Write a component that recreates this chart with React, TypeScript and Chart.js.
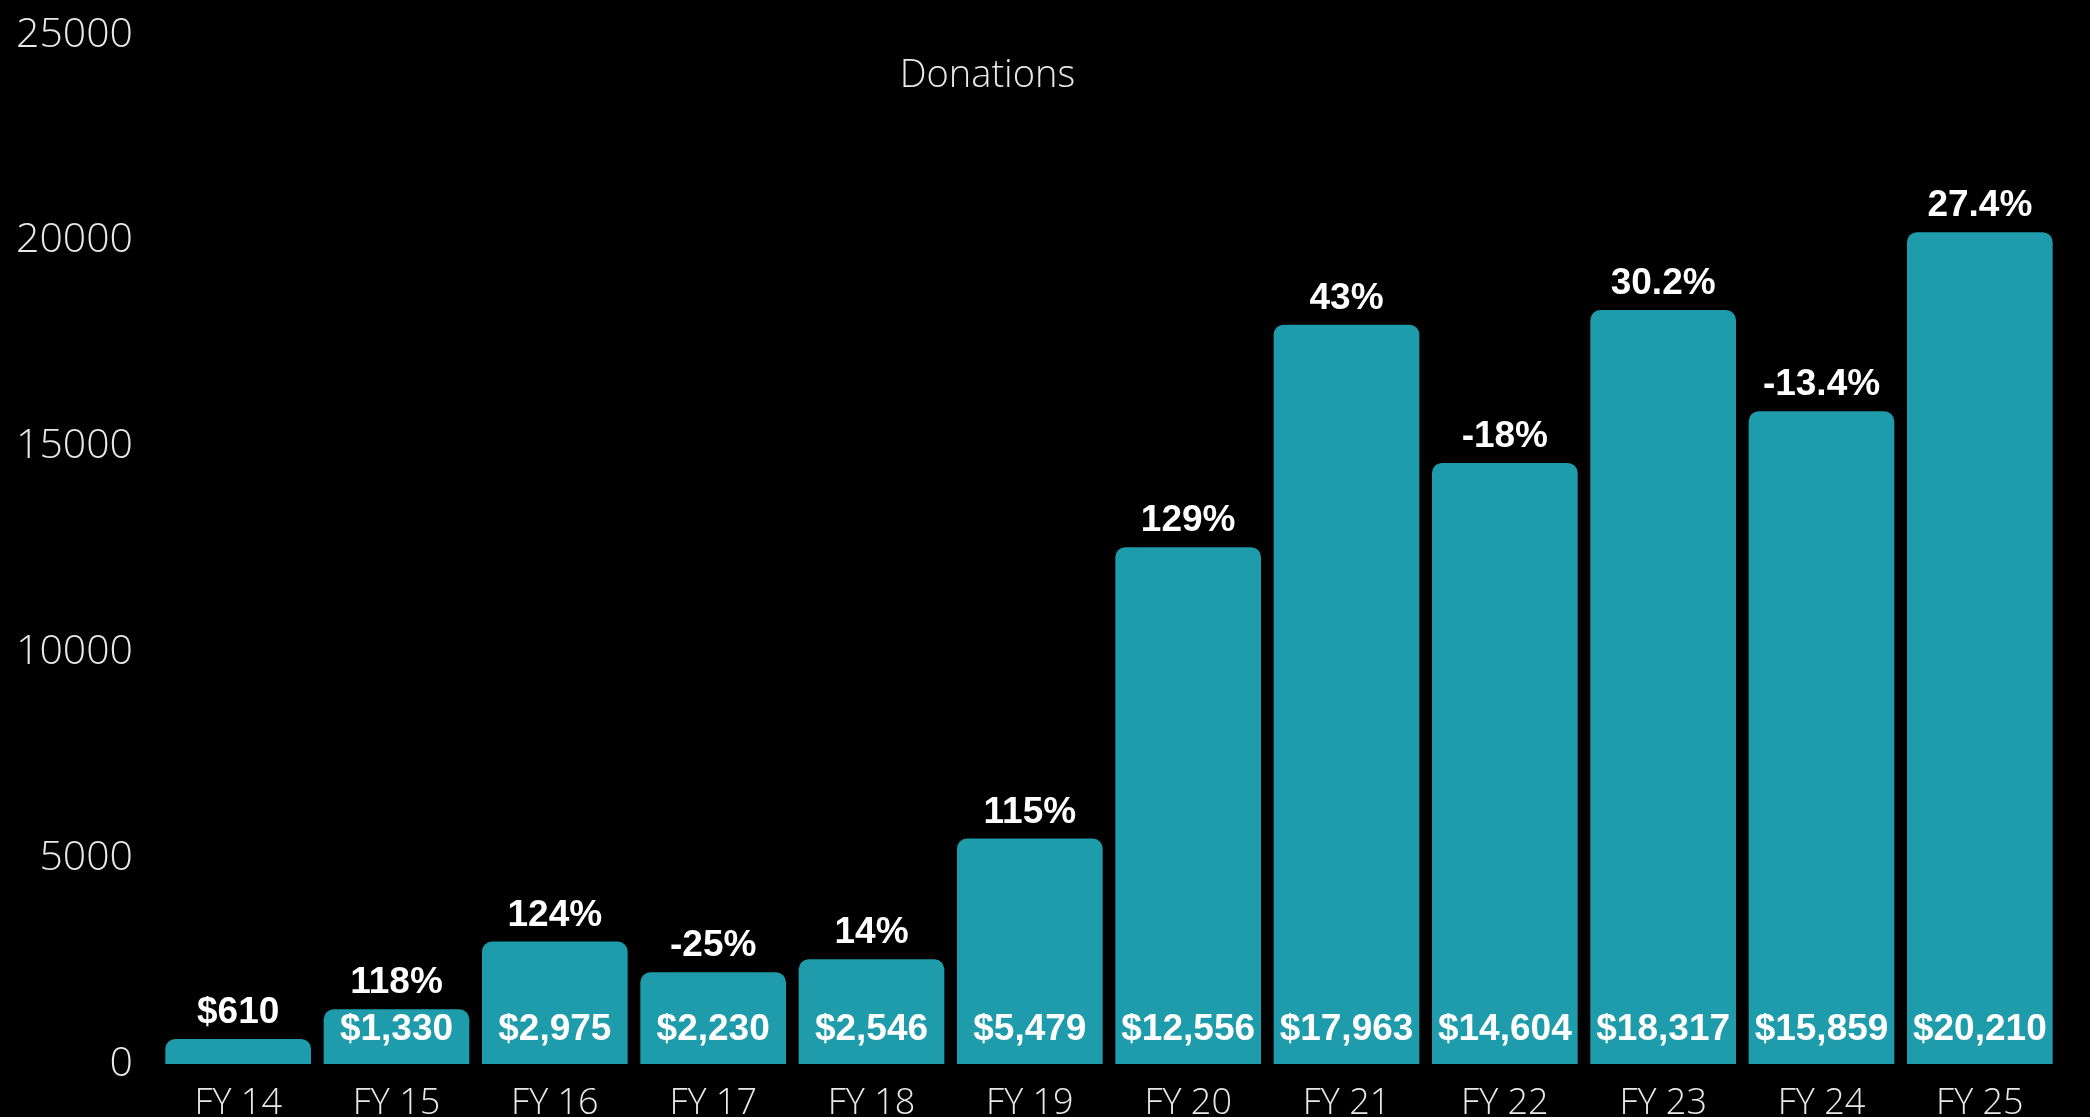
import React, { useEffect, useRef } from "react";
import { Chart, registerables } from "chart.js";

Chart.register(...registerables);

const categories = ["FY 14", "FY 15", "FY 16", "FY 17", "FY 18", "FY 19", "FY 20", "FY 21", "FY 22", "FY 23", "FY 24", "FY 25"];
const donations = [610, 1330, 2975, 2230, 2546, 5479, 12556, 17963, 14604, 18317, 15859, 20210];
const topLabels = ["$610", "118%", "124%", "-25%", "14%", "115%", "129%", "43%", "-18%", "30.2%", "-13.4%", "27.4%"];
const insideLabels = ["", "$1,330", "$2,975", "$2,230", "$2,546", "$5,479", "$12,556", "$17,963", "$14,604", "$18,317", "$15,859", "$20,210"];
const yTicks = [0, 5000, 10000, 15000, 20000, 25000];
const titleText = "Donations";

const W = 2090;
const H = 1117;
const BAR = "#1f9cab";
const THIN = '"Open Sans", Lato, "DejaVu Sans", sans-serif';
const BOLD = '"Liberation Sans", Arial, sans-serif';

const labelPlugin = {
  id: "labels",
  afterDatasetsDraw(chart: any) {
    const ctx = chart.ctx;
    const meta = chart.getDatasetMeta(0);
    ctx.save();
    ctx.fillStyle = "#ffffff";
    ctx.textAlign = "center";
    ctx.textBaseline = "middle";
    ctx.font = `bold 37px ${BOLD}`;
    meta.data.forEach((bar: any, i: number) => {
      ctx.fillText(topLabels[i], bar.x, bar.y - 26);
      if (insideLabels[i]) ctx.fillText(insideLabels[i], bar.x, bar.base - 34);
    });
    ctx.font = `300 38px ${THIN}`;
    ctx.fillStyle = "#e8e8e8";
    const area = chart.chartArea;
    ctx.fillText(titleText, area.left + (area.right - area.left) * 0.436, 76);
    ctx.restore();
  },
};

export default function App() {
  const ref = useRef<HTMLCanvasElement>(null);
  useEffect(() => {
    document.body.style.margin = "0";
    document.body.style.background = "#000";
    const chart = new Chart(ref.current as HTMLCanvasElement, {
      type: "bar",
      data: {
        labels: categories,
        datasets: [
          {
            data: donations,
            backgroundColor: BAR,
            borderRadius: 10,
            borderSkipped: "start",
            barPercentage: 0.92,
            categoryPercentage: 1,
          },
        ],
      },
      options: {
        animation: false,
        responsive: false,
        maintainAspectRatio: false,
        layout: { padding: { top: 35, right: 31, left: 0, bottom: 0 } },
        plugins: {
          legend: { display: false },
          tooltip: { enabled: false },
          title: { display: false },
        },
        scales: {
          x: {
            grid: { display: false, drawTicks: false },
            border: { display: false },
            ticks: {
              color: "#e8e8e8",
              font: { family: THIN, size: 36, weight: "300" as any },
              padding: 18,
              maxRotation: 0,
              autoSkip: false,
            },
            afterFit: (s: any) => {
              s.height = 53;
            },
          },
          y: {
            min: 0,
            max: 25000,
            grid: { display: false, drawTicks: false },
            border: { display: false },
            afterBuildTicks: (s: any) => {
              s.ticks = yTicks.map((v) => ({ value: v }));
            },
            ticks: {
              color: "#e8e8e8",
              font: { family: THIN, size: 41, weight: "300" as any, lineHeight: 0.6 },
              padding: 26,
              callback: (v: any) => String(v),
            },
            afterFit: (s: any) => {
              s.width = 159;
              s.paddingTop = 0;
              s.paddingBottom = 0;
            },
          },
        },
      },
      plugins: [labelPlugin],
    });
    return () => chart.destroy();
  }, []);
  return (
    <div style={{ position: "fixed", left: 0, top: 0, width: W, height: H, background: "#000" }}>
      <canvas ref={ref} width={W} height={H} style={{ width: W, height: H, display: "block" }} />
    </div>
  );
}
